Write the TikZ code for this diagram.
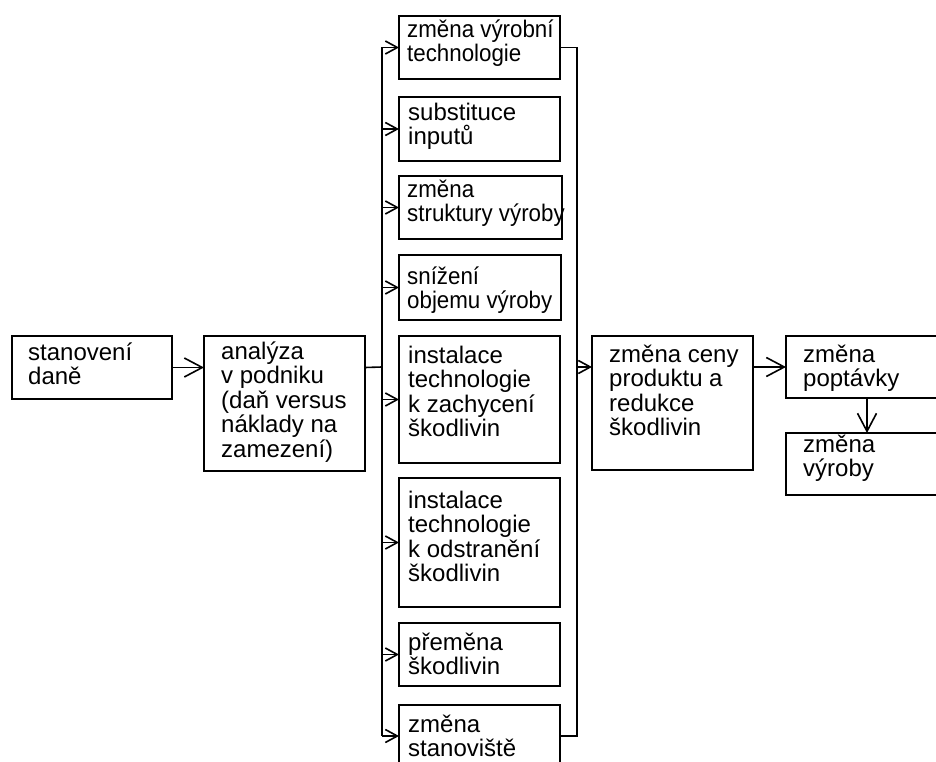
\documentclass[tikz,border=0pt]{standalone}
\usepackage{fontspec}
\setmainfont{Liberation Sans}
\newfontfamily\narrowfont{Liberation Sans}[FakeStretch=0.93]
\usetikzlibrary{arrows.meta}

\begin{document}
\begin{tikzpicture}[x=1pt,y=-1pt,
    bx/.style={draw,line width=1.6pt,anchor=north west,inner sep=0pt,outer sep=0pt},
    txt/.style={anchor=north west,align=left,inner sep=0pt,font=\fontsize{24}{24.5}\selectfont},
    ntxt/.style={txt,font=\fontsize{24}{24.5}\narrowfont},
    ln/.style={line width=1.6pt},
    small/.style={ln,-{Straight Barb[length=12pt,width=13pt,line width=1.6pt]}},
    big/.style={ln,-{Straight Barb[length=18pt,width=19pt,line width=1.6pt]}}]
    \useasboundingbox (0,0) rectangle (936,762);
    \clip (0,0) rectangle (936,762);
    % boxes
    \node[bx,minimum width=160,minimum height=63] (tax) at (12,336) {};
    \node[bx,minimum width=161,minimum height=135] (ana) at (204,336) {};
    \node[bx,minimum width=161,minimum height=63] (m1) at (399,16) {};
    \node[bx,minimum width=161,minimum height=64] (m2) at (399,97) {};
    \node[bx,minimum width=163,minimum height=63] (m3) at (399,176) {};
    \node[bx,minimum width=162,minimum height=65] (m4) at (399,255) {};
    \node[bx,minimum width=161,minimum height=127] (m5) at (399,336) {};
    \node[bx,minimum width=161,minimum height=129] (m6) at (399,478) {};
    \node[bx,minimum width=161,minimum height=63] (m7) at (399,623) {};
    \node[bx,minimum width=161,minimum height=62] (m8) at (399,705) {};
    \node[bx,minimum width=161,minimum height=134] (cena) at (592,336) {};
    \node[bx,minimum width=162,minimum height=62] (pop) at (786,336) {};
    \node[bx,minimum width=162,minimum height=62] (vyr) at (786,433) {};
    % texts
    \node[txt] (taxt) at ([shift={(16,6.5)}]tax.north west) {stanovení\\daně};
    \node[txt] (anat) at ([shift={(17,5.5)}]ana.north west) {analýza\\v podniku\\(daň versus\\náklady na\\zamezení)};
    \node[ntxt] (m1t) at ([shift={(8,3.5)}]m1.north west) {změna výrobní\\technologie};
    \node[txt] (m2t) at ([shift={(9,5.5)}]m2.north west) {substituce\\inputů};
    \node[ntxt] (m3t) at ([shift={(8,3.5)}]m3.north west) {změna\\struktury výroby};
    \node[ntxt] (m4t) at ([shift={(8,11.5)}]m4.north west) {snížení\\objemu výroby};
    \node[txt] (m5t) at ([shift={(9,9.5)}]m5.north west) {instalace\\technologie\\k zachycení\\škodlivin};
    \node[txt] (m6t) at ([shift={(9,12.5)}]m6.north west) {instalace\\technologie\\k odstranění\\škodlivin};
    \node[txt] (m7t) at ([shift={(9,9.5)}]m7.north west) {přeměna\\škodlivin};
    \node[txt] (m8t) at ([shift={(9,9.5)}]m8.north west) {změna\\stanoviště};
    \node[txt] (cenat) at ([shift={(17,8.5)}]cena.north west) {změna ceny\\produktu a\\redukce\\škodlivin};
    \node[txt] (popt) at ([shift={(17,8.5)}]pop.north west) {změna\\poptávky};
    \node[txt] (vyrt) at ([shift={(17,1.5)}]vyr.north west) {změna\\výroby};
    % connectors
    \coordinate (lb) at (382,367);
    \coordinate (rb) at (577,367);
    \draw[big] (tax.east) -- (tax.east -| ana.west);
    \draw[ln] (ana.east |- tax.east) -- (lb);
    \draw[ln] (lb |- m1.west) -- (lb |- m8.west);
    \foreach \i in {1,...,8}
        \draw[small] (lb |- m\i.west) -- (m\i.west);
    \draw[ln] (m1.east) -- (rb |- m1.east) -- (rb |- m8.east) -- (m8.east);
    \draw[small] (rb) -- (rb -| cena.west);
    \draw[big] (cena.east |- pop.west) -- (pop.west);
    \draw[big] (pop.south) -- (vyr.north);
\end{tikzpicture}
\end{document}
